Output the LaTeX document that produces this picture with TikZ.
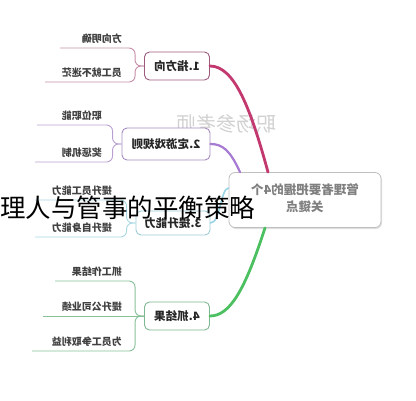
\documentclass[tikz,border=0pt]{standalone}
\usepackage{fontspec}
\setmainfont{Noto Sans CJK SC}
\usepackage{graphicx}
\usetikzlibrary{shadows}

\definecolor{linkA}{HTML}{C2386F}
\definecolor{boxA}{HTML}{9E5A7E}
\definecolor{leafA}{HTML}{C58DA8}
\definecolor{linkB}{HTML}{A77BD3}
\definecolor{boxB}{HTML}{A58BC0}
\definecolor{leafB}{HTML}{B9A0D0}
\definecolor{linkC}{HTML}{9AD4E4}
\definecolor{boxC}{HTML}{9CCBD6}
\definecolor{leafC}{HTML}{A8D8E4}
\definecolor{linkD}{HTML}{4CC060}
\definecolor{boxD}{HTML}{7FB890}
\definecolor{leafD}{HTML}{88C098}

\newcommand{\flipped}[1]{\reflectbox{#1}}

\begin{document}
\begin{tikzpicture}[x=1pt,y=-1pt,
  hub/.style={draw=black!25,line width=0.8pt,rounded corners=6pt,fill=white,
    drop shadow={opacity=0.25,shadow xshift=1pt,shadow yshift=-1.5pt},
    minimum width=152pt,minimum height=55pt,inner sep=0pt,
    text=black!50,font=\fontsize{12.5}{17}\selectfont\bfseries},
  topic/.style={draw=#1,line width=0.9pt,rounded corners=5pt,fill=white,
    inner sep=0pt,text=black!85,font=\fontsize{11.5}{13}\selectfont\bfseries},
  leaftext/.style={inner sep=0pt,text=black!75,font=\fontsize{10}{11}\selectfont\bfseries},
  leaf/.style={draw=#1,line width=0.9pt,rounded corners=6pt},
  link/.style={draw=#1,line cap=round}]
  \useasboundingbox (0,0) rectangle (416,400);

  % watermark
  \node[text=black!18,font=\fontsize{20}{22}\selectfont] (mark) at (226,124) {\flipped{职场参考师}};

  % centre and the four topics
  \node[hub] (hub) at (305,200) {\flipped{\begin{tabular}{@{}c@{}}管理者要把握的4个\\关键点\end{tabular}}};
  \node[topic=boxA,minimum width=65pt,minimum height=28pt] (dir) at (177,66) {\flipped{1.指方向}};
  \node[topic=boxB,minimum width=88pt,minimum height=32pt] (rule) at (166,144) {\flipped{2.定游戏规则}};
  \node[topic=boxC,minimum width=74pt,minimum height=24pt] (skill) at (173,223) {\flipped{3.提升能力}};
  \node[topic=boxD,minimum width=65pt,minimum height=28pt] (res) at (177,316) {\flipped{4.抓结果}};

  \draw[link=linkA,line width=2.8pt] ([xshift=-37pt]hub.north) .. controls +(-17,-62) and +(25,0) .. (dir.east);
  \draw[link=linkB,line width=2.2pt] ([xshift=-65pt]hub.north) .. controls +(-10,-22) and +(12,0) .. (rule.east);
  \draw[link=linkC,line width=1.6pt] ([yshift=12pt]hub.west) .. controls +(-8,0) and +(10,0) .. (skill.east);
  \draw[link=linkD,line width=2.8pt] ([xshift=-40pt]hub.south) .. controls +(-20,62) and +(20,0) .. (res.east);

  % leaves of 1
  \coordinate (e11) at (60,48);
  \coordinate (e12) at (45,82);
  \draw[leaf=leafA] (dir.west) -- ++(-9,0) |- (e11);
  \draw[leaf=leafA] (dir.west) -- ++(-9,0) |- (e12);
  \node[leaftext,anchor=south east] (t11) at (122,44) {\flipped{方向明确}};
  \node[leaftext,anchor=south east] (t12) at (122,78) {\flipped{员工就不迷茫}};

  % leaves of 2
  \coordinate (e21) at (37,125);
  \coordinate (e22) at (35,162);
  \draw[leaf=leafB] (rule.west) -- ++(-9,0) |- (e21);
  \draw[leaf=leafB] (rule.west) -- ++(-9,0) |- (e22);
  \node[leaftext,anchor=south east] (t21) at (102,121) {\flipped{职位职能}};
  \node[leaftext,anchor=south east] (t22) at (102,158) {\flipped{奖惩机制}};

  % leaves of 3
  \coordinate (e31) at (35,200);
  \coordinate (e32) at (35,237);
  \draw[leaf=leafC] (skill.west) -- ++(-9,0) |- (e31);
  \draw[leaf=leafC] (skill.west) -- ++(-9,0) |- (e32);
  \node[leaftext,anchor=south east] (t31) at (112,196) {\flipped{提升员工能力}};
  \node[leaftext,anchor=south east] (t32) at (112,233) {\flipped{提升自身能力}};

  % leaves of 4
  \coordinate (e41) at (55,281);
  \coordinate (e42) at (43,316);
  \coordinate (e43) at (32,351);
  \draw[leaf=leafD] (res.west) -- ++(-9,0) |- (e41);
  \draw[leaf=leafD] (res.west) -- (e42);
  \draw[leaf=leafD] (res.west) -- ++(-9,0) |- (e43);
  \node[leaftext,anchor=south east] (t41) at (122,277) {\flipped{抓工作结果}};
  \node[leaftext,anchor=south east] (t42) at (122,312) {\flipped{提升公司业绩}};
  \node[leaftext,anchor=south east] (t43) at (122,347) {\flipped{为员工争取利益}};

  % overlay title
  \node[anchor=west,inner sep=0pt,font=\fontsize{25.5}{27}\selectfont] (title) at (0,208) {理人与管事的平衡策略};
\end{tikzpicture}
\end{document}
